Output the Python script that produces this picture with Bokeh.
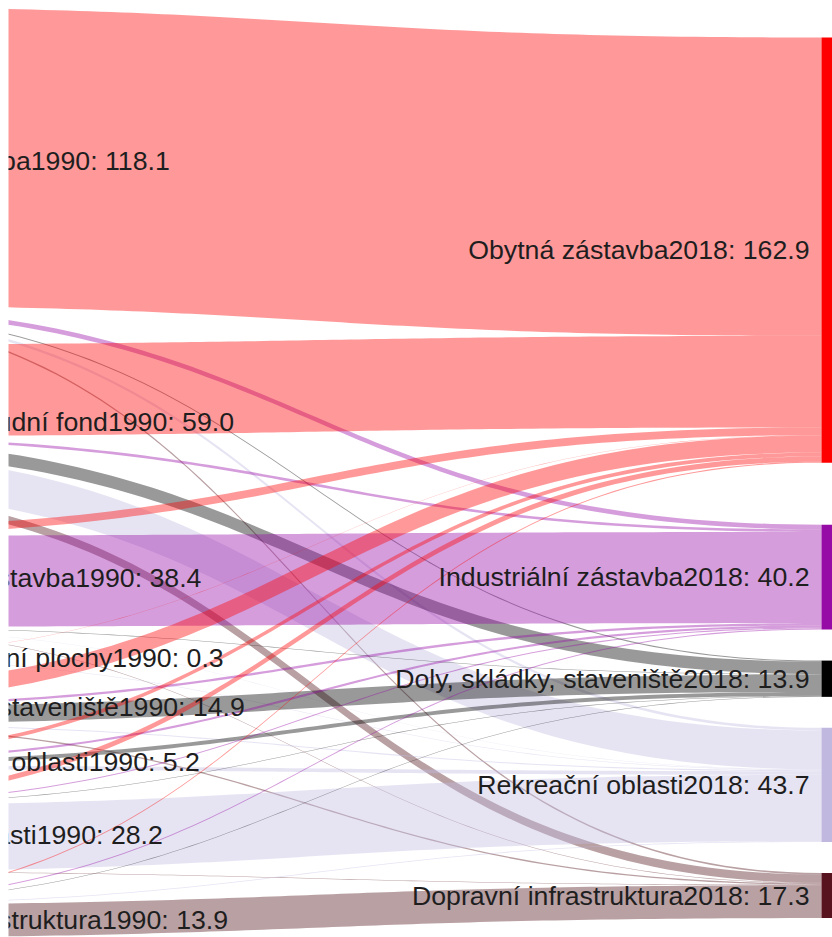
import numpy as np
from bokeh.plotting import figure
from bokeh.models import Range1d
from bokeh.embed import file_html
from bokeh.resources import INLINE
from bokeh.core.properties import value

# ---------------- data ----------------
src_names = ["Obytná zástavba1990", "Zemědělský půdní fond1990", "Industriální zástavba1990",
             "Mokřady a vodní plochy1990", "Doly, skládky, staveniště1990", "Lesní a zelené oblasti1990",
             "Rekreační oblasti1990", "Dopravní infrastruktura1990"]
src_values = [118.1, 59.0, 38.4, 0.3, 14.9, 5.2, 28.2, 13.9]

tgt_names = ["Obytná zástavba2018", "Zemědělský půdní fond2018", "Industriální zástavba2018",
             "Doly, skládky, staveniště2018", "Rekreační oblasti2018", "Dopravní infrastruktura2018"]
tgt_values = [162.9, 0.0, 40.2, 13.9, 43.7, 17.3]

# flows into each 2018 category, one entry per 1990 category (same order as src_names)
to_obytna = [114.3, 35.1, 3.0, 0.1, 6.5, 1.5, 2.0, 0.4]
to_zpf = [0.0, 0.0, 0.0, 0.0, 0.0, 0.0, 0.0, 0.0]
to_industrialni = [1.8, 1.0, 34.9, 0.0, 0.9, 0.8, 0.4, 0.4]
to_doly = [0.4, 4.8, 0.2, 0.0, 6.6, 1.5, 0.2, 0.2]
to_rekreacni = [1.0, 14.9, 0.1, 0.2, 0.4, 1.4, 25.4, 0.3]
to_dopravni = [0.6, 3.2, 0.2, 0.0, 0.5, 0.0, 0.2, 12.6]

src_colors = ["#ff0000", "#3a9a3a", "#960aa5", "#3a6fd8", "#000000", "#2e7d32", "#c0b8de", "#58141e"]
tgt_colors = ["#ff0000", "#3a9a3a", "#960aa5", "#000000", "#c0b8de", "#58141e"]
link_colors = ["#ff0000", "#3a9a3a", "#960aa5", "#000000", "#c0bbe0", "#50121a"]

# ---------------- layout ----------------
SCALE = 2.61          # px per unit
LEFT_TOP, LEFT_PAD = 6.5, 29.3
RIGHT_TOP, RIGHT_PAD = 37.0, 31.0
NODE_W = 20.0
X0 = -200.0           # right edge of 1990 column
X1 = 821.0            # left edge of 2018 column
LABEL_X = -170.0      # start of 1990 labels

flows = np.array([to_obytna, to_zpf, to_industrialni, to_doly, to_rekreacni, to_dopravni]).T  # [src, tgt]

def stack(vals, top, pad):
    tops, y = [], top
    for v in vals:
        tops.append(y)
        y += v * SCALE + pad
    return tops

s_top = stack(src_values, LEFT_TOP, LEFT_PAD)
t_top = stack(tgt_values, RIGHT_TOP, RIGHT_PAD)

p = figure(width=824, height=929, x_range=Range1d(8, 832), y_range=Range1d(937, 8),
           output_backend="svg", toolbar_location=None, min_border=0)
p.margin = (8, 0, 0, 8)
p.xaxis.visible = False
p.yaxis.visible = False
p.grid.visible = False
p.outline_line_color = None
p.background_fill_color = "white"

# link offsets
s_off = list(s_top)
t_off = list(t_top)
src_start = {}
for i in range(len(src_values)):
    for j in range(len(tgt_values)):
        src_start[(i, j)] = s_off[i]
        s_off[i] += flows[i, j] * SCALE
tgt_start = {}
for j in range(len(tgt_values)):
    for i in range(len(src_values)):
        tgt_start[(i, j)] = t_off[j]
        t_off[j] += flows[i, j] * SCALE

t = np.linspace(0, 1, 90)
xm = (X0 + X1) / 2
bx = (1 - t) ** 3 * X0 + 3 * (1 - t) ** 2 * t * xm + 3 * (1 - t) * t ** 2 * xm + t ** 3 * X1
h = 3 * t ** 2 - 2 * t ** 3

xs, ys, cols = [], [], []
for i in range(len(src_values)):
    for j in range(len(tgt_values)):
        w = flows[i, j] * SCALE
        if w <= 0:
            continue
        a0, b0 = src_start[(i, j)], tgt_start[(i, j)]
        top = a0 + (b0 - a0) * h
        bot = top + w
        xs.append(list(np.concatenate([bx, bx[::-1]])))
        ys.append(list(np.concatenate([top, bot[::-1]])))
        cols.append(link_colors[j])

p.patches(xs, ys, fill_color=cols, fill_alpha=0.4, line_color=None)

# nodes
p.quad(left=[X0 - NODE_W] * len(src_values), right=[X0] * len(src_values),
       top=s_top, bottom=[a + v * SCALE for a, v in zip(s_top, src_values)],
       fill_color=src_colors, line_color=None)
p.quad(left=[X1] * len(tgt_values), right=[X1 + NODE_W] * len(tgt_values),
       top=t_top, bottom=[a + v * SCALE for a, v in zip(t_top, tgt_values)],
       fill_color=tgt_colors, line_color=None)

FONT = value("Liberation Sans")
FS = value("26.7px")
TXT = "#1e1e1e"
# labels
lx = [LABEL_X] * len(src_values)
ly = [a + v * SCALE / 2 for a, v in zip(s_top, src_values)]
lt = [f"{n}: {v:.1f}" for n, v in zip(src_names, src_values)]
p.text(lx, ly, text=lt, text_align="left", text_baseline="middle",
       text_font=FONT, text_font_size=FS, text_color=TXT)

rx, ry, rt = [], [], []
for n, v, a in zip(tgt_names, tgt_values, t_top):
    if v > 0:
        rx.append(X1 - 12)
        ry.append(a + v * SCALE / 2)
        rt.append(f"{n}: {v:.1f}")
p.text(rx, ry, text=rt, text_align="right", text_baseline="middle",
       text_font=FONT, text_font_size=FS, text_color=TXT)

open("out.html", "w").write(file_html(p, INLINE))
